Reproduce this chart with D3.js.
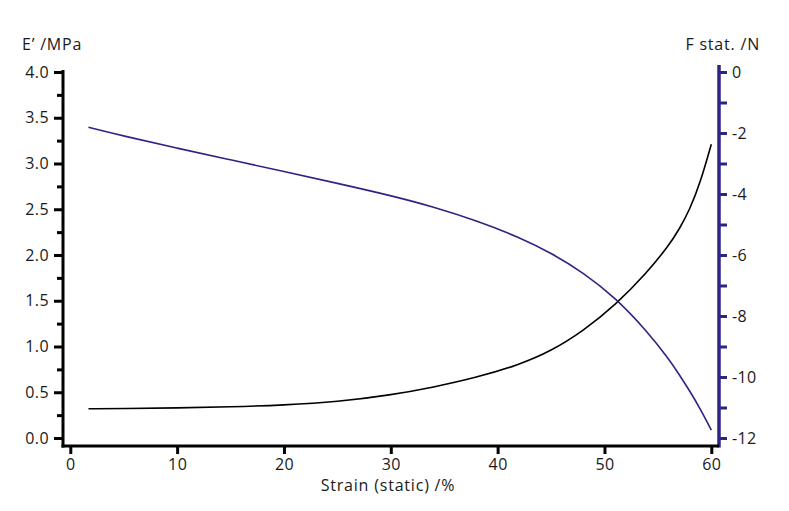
<!DOCTYPE html>
<html>
<head>
<meta charset="utf-8">
<script src="https://cdn.jsdelivr.net/npm/d3@7"></script>
<style>
  html, body { margin: 0; padding: 0; background: #fff; }
  svg text { font-family: "Open Sans", "Noto Sans", sans-serif; fill: #1a1a1a; }
</style>
</head>
<body>
<svg id="chart" width="789" height="511"></svg>
<script>
// ---- data ----
const strain = [1.7, 5, 10, 15, 20, 25, 30, 34, 38, 42, 45, 48, 51, 54, 56, 57, 58, 59, 60];
const modulus = [0.32, 0.322, 0.328, 0.34, 0.36, 0.395, 0.47, 0.555, 0.66, 0.80, 0.95, 1.17, 1.45, 1.81, 2.10, 2.28, 2.50, 2.80, 3.21];
const force = [-1.81, -2.1, -2.5, -2.88, -3.26, -3.65, -4.05, -4.42, -4.87, -5.41, -5.93, -6.57, -7.39, -8.5, -9.4, -9.92, -10.47, -11.06, -11.74];
const xTicks = [0, 10, 20, 30, 40, 50, 60];
const yLeftTicks = [0, 0.5, 1, 1.5, 2, 2.5, 3, 3.5, 4];
const yLeftMinor = [0.25, 0.75, 1.25, 1.75, 2.25, 2.75, 3.25, 3.75];
const yRightTicks = [0, -2, -4, -6, -8, -10, -12];
const yRightMinor = [-1, -3, -5, -7, -9, -11];
const leftTitle = "E\u2019 /MPa";
const rightTitle = "F stat. /N";
const xTitle = "Strain (static) /%";

// ---- layout ----
const purple = "#2d2583";
const svg = d3.select("#chart");
const x = d3.scaleLinear().domain([0, 60]).range([70.3, 711.3]);
const yL = d3.scaleLinear().domain([0, 4]).range([438, 72]);
const yR = d3.scaleLinear().domain([-12, 0]).range([438, 72]);

const axisLeftX = 63, axisRightX = 719, axisBottomY = 446;

// curves
const dataE = strain.map((s, i) => [s, modulus[i]]);
const dataF = strain.map((s, i) => [s, force[i]]);
svg.append("path")
  .attr("d", d3.line().x(d => x(d[0])).y(d => yL(d[1])).curve(d3.curveBasis)(dataE))
  .attr("fill", "none").attr("stroke", "#000").attr("stroke-width", 1.6);
svg.append("path")
  .attr("d", d3.line().x(d => x(d[0])).y(d => yR(d[1])).curve(d3.curveBasis)(dataF))
  .attr("fill", "none").attr("stroke", purple).attr("stroke-width", 1.6);

// left axis
const gL = svg.append("g").attr("transform", `translate(${axisLeftX},0)`);
gL.call(d3.axisLeft(yL).tickValues(yLeftTicks).tickFormat(d3.format(".1f")).tickSize(9).tickPadding(5).tickSizeOuter(0));
gL.append("g").call(d3.axisLeft(yL).tickValues(yLeftMinor).tickFormat("").tickSize(6).tickSizeOuter(0));
gL.selectAll(".domain").remove();
gL.selectAll("line").attr("stroke", "#000").attr("stroke-width", 3);
gL.selectAll("text").attr("font-size", 16).attr("letter-spacing", 0.4).style("fill", "#1a1a1a");
gL.append("line").attr("x1", 0).attr("x2", 0).attr("y1", yL(4) - 2).attr("y2", axisBottomY + 1.5)
  .attr("stroke", "#000").attr("stroke-width", 3);

// right axis
const gR = svg.append("g").attr("transform", `translate(${axisRightX},0)`);
gR.call(d3.axisRight(yR).tickValues(yRightTicks).tickFormat(d => d === 0 ? "0" : "-" + Math.abs(d)).tickSize(8).tickPadding(5).tickSizeOuter(0));
gR.append("g").call(d3.axisRight(yR).tickValues(yRightMinor).tickFormat("").tickSize(8).tickSizeOuter(0));
gR.selectAll(".domain").remove();
gR.selectAll("line").attr("stroke", purple).attr("stroke-width", 3);
gR.selectAll("text").attr("font-size", 16).attr("letter-spacing", 0.4).style("fill", "#1a1a1a");
gR.append("line").attr("x1", 0).attr("x2", 0).attr("y1", yR(0) - 7).attr("y2", axisBottomY + 1.5)
  .attr("stroke", purple).attr("stroke-width", 3.5);

// bottom axis
const gB = svg.append("g").attr("transform", `translate(0,${axisBottomY})`);
gB.call(d3.axisBottom(x).tickValues(xTicks).tickFormat(d3.format("d")).tickSize(8).tickPadding(5).tickSizeOuter(0));
gB.selectAll(".domain").remove();
gB.selectAll("line").attr("stroke", "#000").attr("stroke-width", 3);
gB.selectAll("text").attr("font-size", 16).attr("letter-spacing", 0.4).style("fill", "#1a1a1a");
gB.append("line").attr("x1", axisLeftX - 1.5).attr("x2", axisRightX).attr("y1", 0).attr("y2", 0)
  .attr("stroke", "#000").attr("stroke-width", 3);

// titles
svg.append("text").attr("x", 22).attr("y", 49.5).attr("font-size", 16).attr("letter-spacing", 0.8).text(leftTitle);
svg.append("text").attr("x", 760).attr("y", 49.5).attr("font-size", 16).attr("letter-spacing", 0.8).attr("text-anchor", "end").text(rightTitle);
svg.append("text").attr("x", 388).attr("y", 491).attr("font-size", 16).attr("letter-spacing", 0.8).attr("text-anchor", "middle").text(xTitle);
</script>
</body>
</html>
